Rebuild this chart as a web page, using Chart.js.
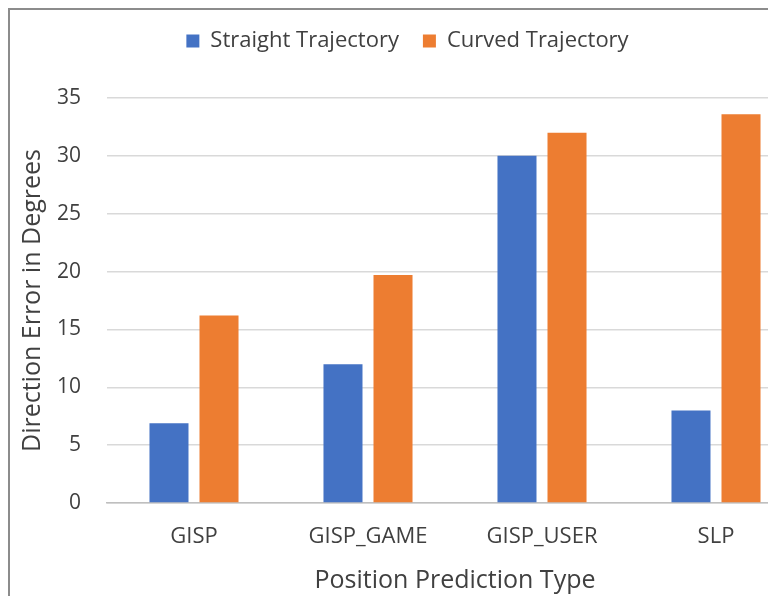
<!DOCTYPE html>
<html>
<head>
<meta charset="utf-8">
<script src="https://cdn.jsdelivr.net/npm/chart.js@4"></script>
<style>
  html, body { margin: 0; padding: 0; background: #fff; overflow: hidden; }
  #wrap { position: relative; width: 768px; height: 596px; overflow: hidden; }
  #frame { position: absolute; left: 8px; top: 8px; width: 800px; height: 600px;
           border-left: 2px solid #8c8c8c; border-top: 2px solid #8c8c8c; }
  #box { position: absolute; left: 0; top: 0; width: 803px; height: 596px; }
</style>
</head>
<body>
<div id="wrap">
  <div id="frame"></div>
  <div id="box"><canvas id="direction-error-chart"></canvas></div>
</div>
<script>
const categories = ['GISP', 'GISP_GAME', 'GISP_USER', 'SLP'];
const straightValues = [6.9, 12.0, 30.0, 8.0];
const curvedValues = [16.2, 19.7, 32.0, 33.6];
const yTicks = [0, 5, 10, 15, 20, 25, 30, 35];

const fontFamily = '"Open Sans", "Noto Sans", sans-serif';

// extra room between the legend and the plot
const legendGap = {
    id: 'legendGap',
    beforeInit(chart) {
        const fit = chart.legend.fit;
        chart.legend.fit = function () {
            fit.bind(chart.legend)();
            this.height += 36;
        };
    }
};

document.addEventListener('DOMContentLoaded', () => {
    const ctx = document.getElementById('direction-error-chart').getContext('2d');
    new Chart(ctx, {
        type: 'bar',
        data: {
            labels: categories,
            datasets: [{
                label: 'Straight Trajectory',
                data: straightValues,
                backgroundColor: '#4472C4'
            }, {
                label: 'Curved Trajectory',
                data: curvedValues,
                backgroundColor: '#ED7D31'
            }]
        },
        plugins: [legendGap],
        options: {
            responsive: true,
            maintainAspectRatio: false,
            animation: false,
            categoryPercentage: 0.575,
            barPercentage: 0.78,
            layout: { padding: { left: 12, top: 6, right: 0, bottom: 0 } },
            plugins: {
                tooltip: { enabled: false },
                legend: {
                    position: 'top',
                    labels: {
                        boxWidth: 13,
                        boxHeight: 13,
                        padding: 24,
                        color: '#404040',
                        font: { family: fontFamily, size: 22 }
                    }
                }
            },
            scales: {
                x: {
                    grid: { display: false },
                    border: { color: '#bfbfbf', width: 1.5 },
                    ticks: { padding: 13, color: '#404040', font: { family: fontFamily, size: 22 } },
                    title: {
                        display: true,
                        text: 'Position Prediction Type',
                        color: '#404040',
                        padding: { top: 0, bottom: 0 },
                        font: { family: fontFamily, size: 25 }
                    },
                    afterFit: s => { s.height = 93; }
                },
                y: {
                    min: 0,
                    max: 35,
                    afterBuildTicks: s => { s.ticks = yTicks.map(v => ({ value: v })); },
                    grid: { color: '#d9d9d9', lineWidth: 1.5, drawTicks: false },
                    border: { display: false },
                    ticks: { padding: 26, color: '#404040', font: { family: fontFamily, size: 21 } },
                    title: {
                        display: true,
                        text: 'Direction Error in Degrees',
                        color: '#404040',
                        padding: { top: 6, bottom: 0 },
                        font: { family: fontFamily, size: 25 }
                    },
                    afterFit: s => { s.width = 95; }
                }
            }
        }
    });
});
</script>
</body>
</html>
